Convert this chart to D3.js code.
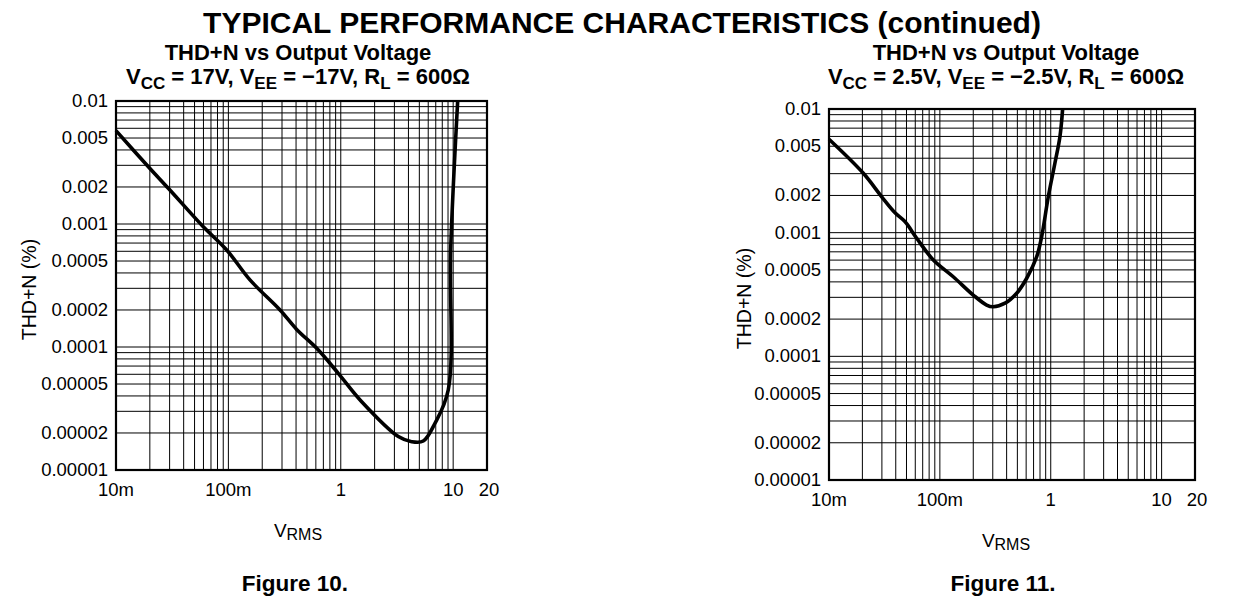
<!DOCTYPE html>
<html>
<head>
<meta charset="utf-8">
<script src="https://cdn.jsdelivr.net/npm/d3@7"></script>
<style>
  body { margin: 0; background: #fff; }
  svg { display: block; font-family: "Liberation Sans", Arial, Helvetica, sans-serif; }
</style>
</head>
<body>
<div id="chart"></div>
<script>
// values
const xTickValues = [0.01, 0.1, 1, 10, 20];
const xTickLabels = ["10m", "100m", "1", "10", "20"];
const yTickValues = [0.01, 0.005, 0.002, 0.001, 0.0005, 0.0002, 0.0001, 0.00005, 0.00002, 0.00001];
const yTickLabels = ["0.01", "0.005", "0.002", "0.001", "0.0005", "0.0002", "0.0001", "0.00005", "0.00002", "0.00001"];

// Figure 10: Vcc = 17V
const fig10Vrms = [0.01, 0.0194, 0.0292, 0.0397, 0.0598, 0.0966, 0.1556, 0.288, 0.405, 0.611, 0.95, 1.535, 3.25, 4.27, 5.42, 6.89, 9.04, 9.5, 10.97];
const fig10Thd = [0.00574, 0.00292, 0.00195, 0.00143, 0.00095, 0.000615, 0.000351, 0.0002, 0.000139, 0.0000975, 0.0000611, 0.0000359, 0.0000187, 0.000017, 0.0000172, 0.000024, 0.0000447, 0.000615, 0.01];

// Figure 11: Vcc = 2.5V
const fig11Vrms = [0.01, 0.0204, 0.0299, 0.0394, 0.0484, 0.0618, 0.0873, 0.132, 0.2, 0.264, 0.303, 0.387, 0.493, 0.607, 0.747, 0.828, 0.95, 1.09, 1.21, 1.28];
const fig11Thd = [0.00569, 0.00302, 0.00195, 0.00145, 0.00123, 0.000901, 0.000601, 0.00044, 0.000313, 0.00026, 0.000252, 0.000269, 0.000324, 0.000428, 0.00064, 0.000929, 0.00195, 0.00364, 0.00597, 0.01];

const width = 1240, height = 612;

const svg = d3.select("#chart").append("svg")
    .attr("width", width)
    .attr("height", height)
    .attr("viewBox", [0, 0, width, height]);

svg.append("text")
    .attr("x", 622).attr("y", 33)
    .attr("text-anchor", "middle")
    .attr("font-size", 30).attr("font-weight", "bold")
    .text("TYPICAL PERFORMANCE CHARACTERISTICS (continued)");

function logGrid(lo, hi) {
    const out = [];
    for (let e = Math.round(Math.log10(lo)); Math.pow(10, e) < hi * 0.999; e++) {
        for (let k = 1; k < 10; k++) out.push(k * Math.pow(10, e));
    }
    out.push(hi);
    return out;
}

function drawChart(opt) {
    const g = svg.append("g");
    const x = d3.scaleLog().domain([0.01, 20]).range([opt.left, opt.right]);
    const y = d3.scaleLog().domain([0.00001, 0.01]).range([opt.bottom, opt.top]);

    // titles
    g.append("text")
        .attr("x", opt.cx).attr("y", 60)
        .attr("text-anchor", "middle")
        .attr("font-size", 22).attr("font-weight", "bold")
        .text("THD+N vs Output Voltage");

    const sub = g.append("text")
        .attr("x", opt.cx).attr("y", 84)
        .attr("text-anchor", "middle")
        .attr("font-size", 22).attr("font-weight", "bold");
    opt.subtitle.forEach(p => {
        const t = sub.append("tspan").text(p[0]);
        if (p[1]) t.attr("font-size", 17).attr("dy", 5);
        else if (p[2]) t.attr("dy", -5);
    });

    // grid
    g.append("g")
        .selectAll("line")
        .data(logGrid(0.01, 10))
        .join("line")
        .attr("x1", d => x(d)).attr("x2", d => x(d))
        .attr("y1", opt.top).attr("y2", opt.bottom)
        .attr("stroke", "#000").attr("stroke-width", 1);

    g.append("g")
        .selectAll("line")
        .data(logGrid(0.00001, 0.01))
        .join("line")
        .attr("x1", opt.left).attr("x2", opt.right)
        .attr("y1", d => y(d)).attr("y2", d => y(d))
        .attr("stroke", "#000").attr("stroke-width", 1);

    g.append("rect")
        .attr("x", opt.left).attr("y", opt.top)
        .attr("width", opt.right - opt.left)
        .attr("height", opt.bottom - opt.top)
        .attr("fill", "none").attr("stroke", "#000").attr("stroke-width", 2.2);

    // tick labels
    g.append("g")
        .selectAll("text")
        .data(yTickValues)
        .join("text")
        .attr("x", opt.left - 8)
        .attr("y", d => y(d) + 6)
        .attr("text-anchor", "end")
        .attr("font-size", 18.5)
        .text((d, i) => yTickLabels[i]);

    g.append("g")
        .selectAll("text")
        .data(xTickValues)
        .join("text")
        .attr("x", d => x(d) + (d === 20 ? 2 : 0))
        .attr("y", opt.bottom + 26)
        .attr("text-anchor", "middle")
        .attr("font-size", 18.5)
        .text((d, i) => xTickLabels[i]);

    // axis titles
    g.append("text")
        .attr("transform", `translate(${opt.ylabelX},${(opt.top + opt.bottom) / 2 + 4}) rotate(-90)`)
        .attr("text-anchor", "middle")
        .attr("font-size", 19.5)
        .text("THD+N (%)");

    const xl = g.append("text")
        .attr("x", opt.cx).attr("y", opt.bottom + 67)
        .attr("text-anchor", "middle")
        .attr("font-size", 19);
    xl.append("tspan").text("V");
    xl.append("tspan").attr("font-size", 16).attr("dy", 3).text("RMS");

    g.append("text")
        .attr("x", opt.figX).attr("y", 591)
        .attr("text-anchor", "middle")
        .attr("font-size", 22.5).attr("font-weight", "bold")
        .text(opt.figure);

    // curve
    const line = d3.line()
        .x(d => x(d[0]))
        .y(d => y(d[1]))
        .curve(d3.curveCatmullRom.alpha(0.5));

    g.append("path")
        .datum(d3.zip(opt.xs, opt.ys))
        .attr("d", line)
        .attr("fill", "none")
        .attr("stroke", "#000")
        .attr("stroke-width", 3.6)
        .attr("stroke-linejoin", "round");
}

drawChart({
    left: 116, right: 487, top: 101, bottom: 470,
    cx: 298, figX: 295, ylabelX: 36,
    figure: "Figure 10.",
    subtitle: [["V"], ["CC", true], [" = 17V, V", false, true], ["EE", true], [" = \u221217V, R", false, true], ["L", true], [" = 600\u03A9", false, true]],
    xs: fig10Vrms, ys: fig10Thd
});

drawChart({
    left: 829, right: 1195, top: 109, bottom: 480,
    cx: 1006, figX: 1003, ylabelX: 751,
    figure: "Figure 11.",
    subtitle: [["V"], ["CC", true], [" = 2.5V, V", false, true], ["EE", true], [" = \u22122.5V, R", false, true], ["L", true], [" = 600\u03A9", false, true]],
    xs: fig11Vrms, ys: fig11Thd
});
</script>
</body>
</html>
